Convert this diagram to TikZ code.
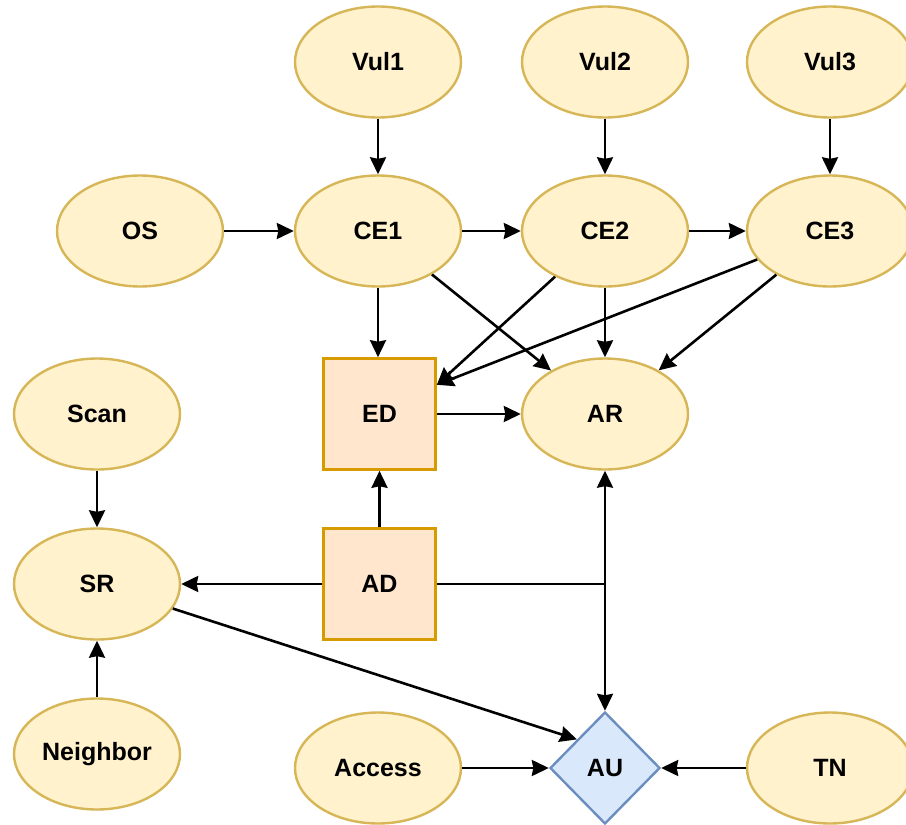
\documentclass[tikz,border=0pt]{standalone}
\usepackage{fontspec}
\setmainfont{Liberation Sans}
\usetikzlibrary{arrows.meta,shapes.geometric,calc}
\definecolor{ellFill}{HTML}{FFF2CC}
\definecolor{ellStroke}{HTML}{D6B656}
\definecolor{boxFill}{HTML}{FFE6CC}
\definecolor{boxStroke}{HTML}{D79B00}
\definecolor{diaFill}{HTML}{DAE8FC}
\definecolor{diaStroke}{HTML}{6C8EBF}
\begin{document}
\begin{tikzpicture}[x=1pt,y=-1pt,
  every node/.style={font=\fontsize{25}{29}\selectfont\bfseries, inner sep=0pt},
  ell/.style={ellipse, draw=ellStroke, fill=ellFill, line width=2.4pt, minimum width=166pt, minimum height=111pt},
  box/.style={rectangle, draw=boxStroke, fill=boxFill, line width=2.6pt, minimum width=112pt, minimum height=111pt},
  dia/.style={diamond, draw=diaStroke, fill=diaFill, line width=2.4pt, minimum width=110pt, minimum height=112pt},
  arr/.style={-{Stealth[length=17pt,width=16pt,inset=1.5pt]}, line width=2.6pt, black},
  ln/.style={line width=2.6pt, black}
]
\useasboundingbox (0,0) rectangle (906,825);

\node[ell] (Vul1) at (378,62) {Vul1};
\node[ell] (Vul2) at (605,62) {Vul2};
\node[ell] (Vul3) at (830,62) {Vul3};
\node[ell] (OS) at (140,231) {OS};
\node[ell] (CE1) at (378,231) {CE1};
\node[ell] (CE2) at (605,231) {CE2};
\node[ell] (CE3) at (830,231) {CE3};
\node[ell] (Scan) at (97,414) {Scan};
\node[box] (ED) at (379.5,414) {ED};
\node[ell] (AR) at (605,414) {AR};
\node[ell] (SR) at (97,584) {SR};
\node[box] (AD) at (379.5,584) {AD};
\node[ell] (Neighbor) at (97,754) {Neighbor};
\node[ell] (Access) at (378,768) {Access};
\node[dia] (AU) at (605,768) {AU};
\node[ell] (TN) at (830,768) {TN};

\coordinate (EDin) at (ED.27);
\coordinate (EDtop) at (CE1.south |- ED.north);
\coordinate (j) at (AR.south |- AD.east);

\draw[arr] (Vul1) -- (CE1);
\draw[arr] (Vul2) -- (CE2);
\draw[arr] (Vul3) -- (CE3);
\draw[arr] (OS) -- (CE1);
\draw[arr] (CE1) -- (CE2);
\draw[arr] (CE2) -- (CE3);
\draw[arr] (CE1.south) -- (EDtop);
\draw[arr] (CE1) -- (AR);
\draw[arr] (CE2) -- (EDin);
\draw[arr] (CE2) -- (AR);
\draw[arr] (CE3) -- (EDin);
\draw[arr] (CE3) -- (AR);
\draw[arr] (ED) -- (AR);
\draw[arr] (Scan) -- (SR);
\draw[arr] (Neighbor) -- (SR);
\draw[arr] (AD) -- (ED);
\draw[arr] (AD) -- (SR);
\draw[ln] (AD.east) -- (j);
\draw[arr] (j) -- (AR.south);
\draw[arr] (j) -- (AU.north);
\draw[arr] (SR) -- (AU.north west);
\draw[arr] (Access) -- (AU);
\draw[arr] (TN) -- (AU);
\end{tikzpicture}
\end{document}
